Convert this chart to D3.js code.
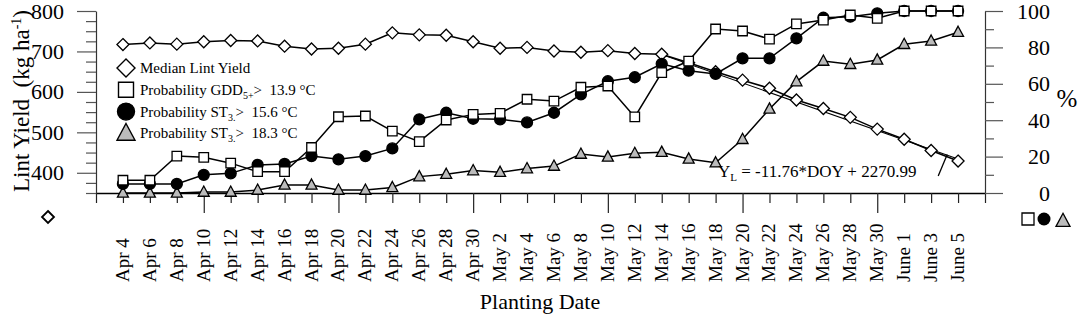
<!DOCTYPE html>
<html>
<head>
<meta charset="utf-8">
<script src="https://cdn.jsdelivr.net/npm/d3@7"></script>
<style>
  body { margin: 0; background: #fff; }
  svg { display: block; font-family: "Times New Roman", "Liberation Serif", serif; }
  text { white-space: pre; }
</style>
</head>
<body>
<div id="chart"></div>
<script>
// planting dates, every 2 days
const dates = ["Apr 4", "Apr 6", "Apr 8", "Apr 10", "Apr 12", "Apr 14", "Apr 16", "Apr 18",
  "Apr 20", "Apr 22", "Apr 24", "Apr 26", "Apr 28", "Apr 30", "May 2", "May 4", "May 6",
  "May 8", "May 10", "May 12", "May 14", "May 16", "May 18", "May 20", "May 22", "May 24",
  "May 26", "May 28", "May 30", "June 1", "June 3", "June 5"];

// median lint yield, kg/ha (left axis)
const medianYield = [717, 721, 718, 724, 727, 726, 713, 706, 708, 718, 746, 741, 740, 724,
  708, 710, 701, 698, 702, 695, 693, 672, 650, 629, 609, 580, 559, 537, 508, 483, 455, 429];

// probabilities, % (right axis)
const probGDD = [7, 7, 20.3, 19.6, 16.4, 11.7, 11.7, 25, 41.9, 42.3, 34, 28.2, 40.1, 43.2,
  43.8, 51.5, 50.5, 58.1, 58.8, 41.8, 66.1, 72.5, 90.1, 89, 84.6, 92.9, 95, 97.8, 96, 100, 100, 100];
const probST156 = [5, 5, 5, 10, 10.8, 15.4, 16, 20.3, 18.5, 20.3, 24.5, 40.5, 44.1, 40.8,
  40.5, 38.8, 44.1, 54.2, 61.4, 63.6, 71, 67.2, 65.4, 74, 74, 85, 96.3, 96.9, 98.7, 100, 100, 100];
const probST183 = [0, 0, 0, 0.5, 0.5, 1.6, 4.4, 4.4, 1.6, 1.6, 3, 9, 10.3, 12.3, 11.4, 13.4,
  14.8, 21.4, 19.8, 21.8, 22.4, 18.7, 16.6, 29.5, 46.2, 61.2, 72.5, 70.7, 73.1, 81.7, 83.5, 88.3];

// regression of yield on day of year: YL = -11.76*DOY + 2270.99
const slope = -11.76;
const intercept = 2270.99;
const firstDOY = 94;          // Apr 4
const regFrom = 20, regTo = 31; // May 14 .. June 5

const width = 1084, height = 324;
const axisY = 193;

const x = d3.scaleLinear().domain([-1, 32]).range([96, 985]);
const yL = d3.scaleLinear().domain([350, 800]).range([axisY, 11]);
const yR = d3.scaleLinear().domain([0, 100]).range([axisY, 11]);

const svg = d3.select("#chart").append("svg")
  .attr("width", width)
  .attr("height", height)
  .attr("viewBox", [0, 0, width, height]);

// marker shapes
const diamond = r => `M0,${-r}L${r},0L0,${r}L${-r},0Z`;
const square = s => `M${-s / 2},${-s / 2}h${s}v${s}h${-s}Z`;
const triangle = w => `M0,${-w * 0.55}L${w / 2},${w * 0.38}L${-w / 2},${w * 0.38}Z`;
const circle = r => `M${r},0A${r},${r} 0 1,1 ${-r},0A${r},${r} 0 1,1 ${r},0Z`;

// x axis
svg.append("g")
  .attr("transform", `translate(0,${axisY})`)
  .call(d3.axisBottom(x).tickValues(d3.range(-1, 33)).tickSizeOuter(0).tickFormat(""))
  .call(g => g.select(".domain").attr("stroke", "#000").attr("stroke-width", 1.3))
  .call(g => g.selectAll(".tick line")
    .attr("stroke", "#222")
    .attr("stroke-width", 1.2)
    .attr("y2", d => d % 5 === 3 ? 20 : 10));

svg.append("g")
  .selectAll("text")
  .data(dates)
  .join("text")
  .attr("transform", (d, i) => `translate(${x(i) + 6},282) rotate(-90)`)
  .attr("font-size", "19px")
  .attr("text-anchor", "start")
  .text(d => d);

svg.append("text")
  .attr("x", 540)
  .attr("y", 309)
  .attr("text-anchor", "middle")
  .attr("font-size", "22px")
  .text("Planting Date");

// left axis
svg.append("g")
  .attr("transform", `translate(${x(-1)},0)`)
  .call(d3.axisLeft(yL).tickValues(d3.range(350, 801, 25)).tickSizeOuter(0)
    .tickFormat(d => d % 100 === 0 && d >= 400 ? d : ""))
  .call(g => g.select(".domain").attr("stroke", "#333").attr("stroke-width", 1.2))
  .call(g => g.selectAll(".tick line")
    .attr("stroke", "#555")
    .attr("stroke-width", 1.2)
    .attr("x2", d => d % 100 === 0 ? -19 : -10))
  .call(g => g.selectAll(".tick text")
    .attr("x", -32)
    .attr("font-size", "22px")
    .attr("font-family", "Times New Roman, Liberation Serif, serif")
    .attr("fill", "#000"));

const yTitle = svg.append("text")
  .attr("transform", "translate(29,101) rotate(-90)")
  .attr("text-anchor", "middle")
  .attr("font-size", "23px");
yTitle.append("tspan").text("Lint Yield  (kg ha");
yTitle.append("tspan").attr("font-size", "14px").attr("dy", -8).text("-1");
yTitle.append("tspan").attr("dy", 8).text(")");

// right axis
svg.append("g")
  .attr("transform", `translate(${x(32)},0)`)
  .call(d3.axisRight(yR).tickValues(d3.range(0, 101, 10)).tickSizeOuter(0)
    .tickFormat(d => d % 20 === 0 ? d : ""))
  .call(g => g.select(".domain").attr("stroke", "#333").attr("stroke-width", 1.2))
  .call(g => g.selectAll(".tick line")
    .attr("stroke", "#555")
    .attr("stroke-width", 1.2)
    .attr("x2", d => d % 20 === 0 ? 18 : 9))
  .call(g => g.selectAll(".tick text")
    .attr("x", 65)
    .attr("text-anchor", "end")
    .attr("font-size", "22px")
    .attr("font-family", "Times New Roman, Liberation Serif, serif")
    .attr("fill", "#000"));

svg.append("text")
  .attr("x", 1067)
  .attr("y", 107)
  .attr("text-anchor", "middle")
  .attr("font-size", "25px")
  .text("%");

// axis keys
svg.append("path").attr("d", diamond(6)).attr("transform", "translate(48,217)")
  .attr("fill", "#fff").attr("stroke", "#000").attr("stroke-width", 1.8);
svg.append("path").attr("d", square(12)).attr("transform", "translate(1028,219)")
  .attr("fill", "#fff").attr("stroke", "#000").attr("stroke-width", 1.3);
svg.append("path").attr("d", circle(6.5)).attr("transform", "translate(1044,219)")
  .attr("fill", "#000");
svg.append("path").attr("d", triangle(14)).attr("transform", "translate(1063,221)")
  .attr("fill", "#bbb").attr("stroke", "#000").attr("stroke-width", 1.3);

// series
const series = [
  { values: medianYield, y: yL, shape: diamond(6), fill: "#fff" },
  { values: probST183, y: yR, shape: triangle(11), fill: "#bbb" },
  { values: probST156, y: yR, shape: circle(5.5), fill: "#000" },
  { values: probGDD, y: yR, shape: square(9.5), fill: "#fff" }
];

series.forEach(s => {
  const line = d3.line().x((d, i) => x(i)).y(d => s.y(d));
  svg.append("path")
    .datum(s.values)
    .attr("fill", "none")
    .attr("stroke", "#000")
    .attr("stroke-width", 1.5)
    .attr("d", line);

  if (s.values === medianYield) {
    // regression line over the late plantings
    const reg = d3.range(regFrom, regTo + 1, regTo - regFrom);
    svg.append("path")
      .datum(reg)
      .attr("fill", "none")
      .attr("stroke", "#000")
      .attr("stroke-width", 1.1)
      .attr("d", d3.line()
        .x(i => x(i))
        .y(i => yL(slope * (firstDOY + 2 * i) + intercept) + 1));
  }

  svg.append("g")
    .selectAll("path")
    .data(s.values)
    .join("path")
    .attr("d", s.shape)
    .attr("transform", (d, i) => `translate(${x(i)},${s.y(d)})`)
    .attr("fill", s.fill)
    .attr("stroke", "#000")
    .attr("stroke-width", 1.3);
});

// equation label
const eq = svg.append("text")
  .attr("x", 718)
  .attr("y", 177)
  .attr("font-size", "17px");
eq.append("tspan").text("Y");
eq.append("tspan").attr("font-size", "11px").attr("dy", 4).text("L");
eq.append("tspan").attr("dy", -4).text(" = -11.76*DOY + 2270.99");

const leadI = 30.3;
svg.append("line")
  .attr("x1", x(leadI) - 1)
  .attr("y1", 176)
  .attr("x2", x(leadI) + 8)
  .attr("y2", yL(slope * (firstDOY + 2 * leadI) + intercept) + 3)
  .attr("stroke", "#000")
  .attr("stroke-width", 1.3);

// legend
const legendItems = [
  { shape: diamond(9), fill: "#fff", parts: [["Median Lint Yield"]] },
  { shape: square(15), fill: "#fff", parts: [["Probability GDD"], ["5+", "sub"], [">  13.9 °C"]] },
  { shape: circle(8.5), fill: "#000", parts: [["Probability ST"], ["3.", "sub"], [">  15.6 °C"]] },
  { shape: triangle(18), fill: "#bbb", parts: [["Probability ST"], ["3.", "sub"], [">  18.3 °C"]] }
];

const legend = svg.append("g")
  .selectAll("g")
  .data(legendItems)
  .join("g")
  .attr("transform", (d, i) => `translate(126,${68 + i * 21.8})`);

legend.append("path")
  .attr("d", d => d.shape)
  .attr("fill", d => d.fill)
  .attr("stroke", "#000")
  .attr("stroke-width", 1.4);

legend.append("text")
  .attr("x", 14)
  .attr("y", 5)
  .attr("font-size", "15px")
  .each(function(d) {
    const t = d3.select(this);
    let shift = 0;
    d.parts.forEach(([txt, kind]) => {
      const dy = kind === "sub" ? 4 : -shift;
      shift = kind === "sub" ? 4 : 0;
      t.append("tspan")
        .attr("dy", dy)
        .attr("font-size", kind === "sub" ? "10px" : null)
        .text(txt);
    });
  });
</script>
</body>
</html>
